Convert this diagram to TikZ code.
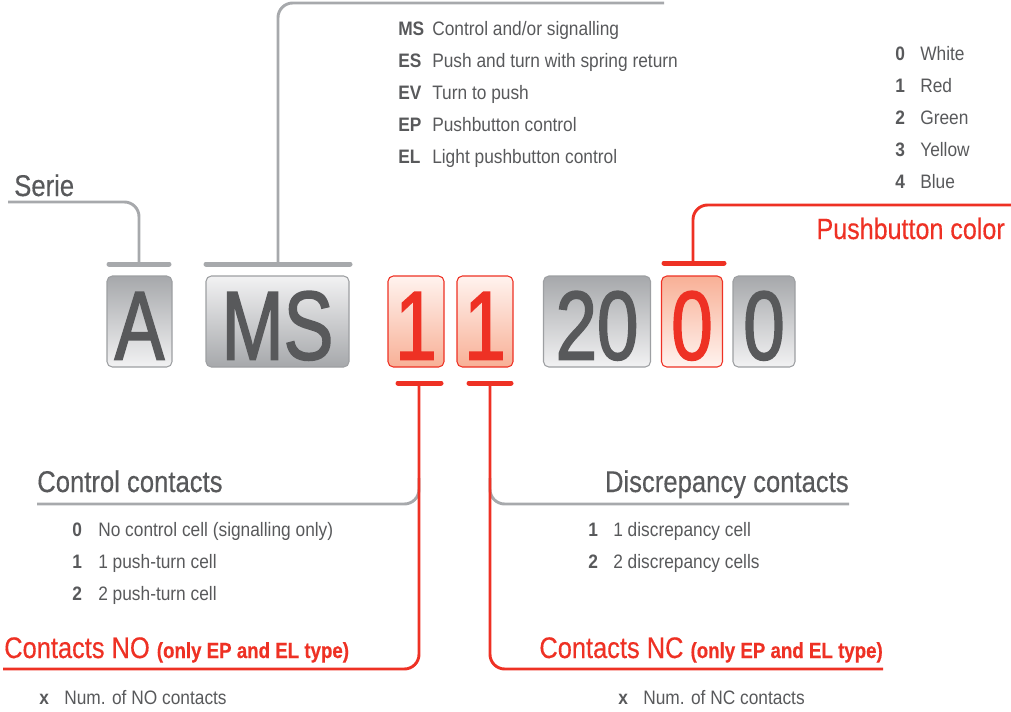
\documentclass[tikz,border=0pt]{standalone}
\usepackage{fontspec}
\setmainfont[FakeStretch=0.89]{Liberation Sans}
\newfontfamily\titlefont[FakeStretch=0.855, FakeBold=0.4]{Liberation Sans}
\newfontfamily\digitfont[FakeStretch=0.76, FakeBold=1.6]{Liberation Sans}
\definecolor{txtgray}{HTML}{58595B}
\definecolor{lngray}{HTML}{A7A9AC}
\definecolor{rd}{HTML}{EE3124}
\definecolor{gdark}{HTML}{A6A8AB}
\definecolor{glight}{HTML}{F2F2F3}
\definecolor{rdark}{HTML}{F8B096}
\definecolor{rlight}{HTML}{FFF3EF}
\definecolor{bordgray}{HTML}{9D9FA2}
\begin{document}
\begin{tikzpicture}[x=0.75pt,y=-0.75pt,
  box/.style={rounded corners=4pt, inner sep=0pt, minimum height=91*0.75pt, line width=0.8pt},
  gboxdn/.style={box, draw=bordgray, top color=gdark, bottom color=glight},
  gboxup/.style={box, draw=bordgray, top color=glight, bottom color=gdark},
  rboxdn/.style={box, draw=rd, top color=rlight, bottom color=rdark},
  rboxup/.style={box, draw=rd, top color=rdark, bottom color=rlight},
  dig/.style={anchor=base, inner sep=0pt, font=\digitfont\fontsize{73.5}{73.5}\selectfont},
  gdig/.style={dig, text=txtgray},
  rdig/.style={dig, text=rd},
  gbar/.style={draw=lngray, line width=3.75pt, line cap=round},
  rbar/.style={draw=rd, line width=3.75pt, line cap=round},
  gline/.style={draw=lngray, line width=2.2pt, rounded corners=11pt},
  rline/.style={draw=rd, line width=2.2pt, rounded corners=11pt},
  title/.style={inner sep=0pt, text=txtgray, font=\titlefont\fontsize{22.5}{22.5}\selectfont},
  rtitle/.style={inner sep=0pt, text=rd, font=\titlefont\fontsize{22.3}{22.3}\selectfont},
  item/.style={anchor=base west, inner sep=0pt, text=txtgray, font=\fontsize{14.6}{14.6}\selectfont},
  itemb/.style={item, font=\fontsize{14.6}{14.6}\selectfont\bfseries},
]
\useasboundingbox (0,0) rectangle (1011,711);

% boxes
\node[gboxdn, minimum width=65*0.75pt] (bA) at (139.5,321.5) {};
\node[gboxup, minimum width=143*0.75pt] (bMS) at (277.5,321.5) {};
\node[rboxdn, minimum width=56*0.75pt] (bN1) at (416,321.5) {};
\node[rboxdn, minimum width=56*0.75pt] (bN2) at (485,321.5) {};
\node[gboxdn, minimum width=107*0.75pt] (b20) at (597,321.5) {};
\node[rboxup, minimum width=61*0.75pt] (bC) at (692,321.5) {};
\node[gboxdn, minimum width=62*0.75pt] (bL) at (764,321.5) {};

\node[gdig] (tA) at ([yshift=6pt]bA.south) {A};
\node[gdig] (tMS) at ([yshift=6pt]bMS.south) {MS};
\node[rdig] (tN1) at ([yshift=6pt]bN1.south) {1};
\node[rdig] (tN2) at ([yshift=6pt]bN2.south) {1};
\node[gdig] (t20) at ([yshift=6pt]b20.south) {20};
\node[rdig] (tC) at ([yshift=6pt]bC.south) {0};
\node[gdig] (tL) at ([yshift=6pt]bL.south) {0};

% bars
\coordinate (barA) at (139,264);
\coordinate (barMS) at (278,264);
\coordinate (barC) at (693,263);
\coordinate (barN1) at (419,383);
\coordinate (barN2) at (490,383);
\draw[gbar] (109,264) -- (169,264);
\draw[gbar] (206,264) -- (350,264);
\draw[rbar] (664,263) -- (724,263);
\draw[rbar] (398,383) -- (441,383);
\draw[rbar] (469,383) -- (511,383);

% connector ends
\coordinate (serieEnd) at (8,202);
\coordinate (msEnd) at (664,3);
\coordinate (pbEnd) at (1011,205);
\coordinate (noEnd) at (3,669);
\coordinate (ncEnd) at (883,669);
\coordinate (ccEnd) at (37,504);
\coordinate (ccJoin) at (419,478);
\coordinate (dcEnd) at (849,504);
\coordinate (dcJoin) at (490,478);

\draw[gline] (barA) |- (serieEnd);
\draw[gline] (barMS) |- (msEnd);
\draw[gline] (ccEnd) -| (ccJoin);
\draw[gline] (dcEnd) -| (dcJoin);
\draw[rline] (barC) |- (pbEnd);
\draw[rline] (barN1) |- (noEnd);
\draw[rline] (barN2) |- (ncEnd);

% titles
\node[title, anchor=base west] (serie) at (14,196) {Serie};
\node[rtitle, anchor=base east, font=\titlefont\fontsize{22}{22}\selectfont] (pb) at (1005,239) {Pushbutton color};
\node[title, anchor=base west] (cc) at (37,492) {Control contacts};
\node[title, anchor=base east] (dc) at (849,492) {Discrepancy contacts};
\node[rtitle, anchor=base west] (no) at (4,658) {Contacts NO {\fontsize{16.4}{16.4}\selectfont\bfseries (only EP and EL type)}};
\node[rtitle, anchor=base east] (nc) at (883,658) {Contacts NC {\fontsize{16.4}{16.4}\selectfont\bfseries (only EP and EL type)}};

% MS list
\node[itemb] (k1) at (398,35) {MS};
\node[item] (v1) at (432,35) {Control and/or signalling};
\node[itemb] (k2) at (398,67) {ES};
\node[item] (v2) at (432,67) {Push and turn with spring return};
\node[itemb] (k3) at (398,99) {EV};
\node[item] (v3) at (432,99) {Turn to push};
\node[itemb] (k4) at (398,131) {EP};
\node[item] (v4) at (432,131) {Pushbutton control};
\node[itemb] (k5) at (398,163) {EL};
\node[item] (v5) at (432,163) {Light pushbutton control};

% colour list
\node[itemb] (c0) at (895,60) {0};
\node[item] (cw) at (920,60) {White};
\node[itemb] (c1) at (895,92) {1};
\node[item] (cr) at (920,92) {Red};
\node[itemb] (c2) at (895,124) {2};
\node[item] (cg) at (920,124) {Green};
\node[itemb] (c3) at (895,156) {3};
\node[item] (cy) at (920,156) {Yellow};
\node[itemb] (c4) at (895,188) {4};
\node[item] (cb) at (920,188) {Blue};

% control list
\node[itemb] (n0) at (72,536) {0};
\node[item] (m0) at (98,536) {No control cell (signalling only)};
\node[itemb] (n1) at (72,568) {1};
\node[item] (m1) at (98,568) {1 push-turn cell};
\node[itemb] (n2) at (72,600) {2};
\node[item] (m2) at (98,600) {2 push-turn cell};

% discrepancy list
\node[itemb] (d1) at (588,536) {1};
\node[item] (e1) at (613,536) {1 discrepancy cell};
\node[itemb] (d2) at (588,568) {2};
\node[item] (e2) at (613,568) {2 discrepancy cells};

% x lines
\node[itemb] (x1) at (39,704) {x};
\node[item] (y1) at (64,704) {Num. of NO contacts};
\node[itemb] (x2) at (618,704) {x};
\node[item] (y2) at (643,704) {Num. of NC contacts};
\end{tikzpicture}
\end{document}
